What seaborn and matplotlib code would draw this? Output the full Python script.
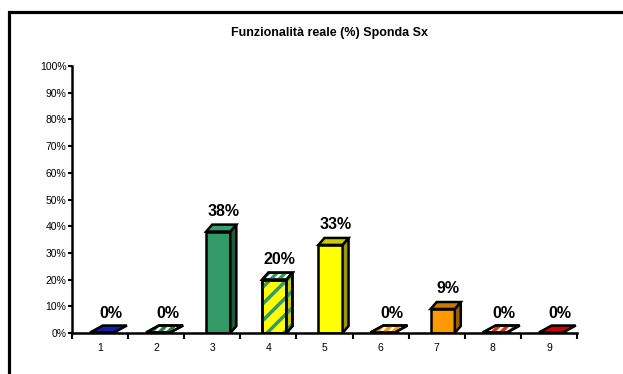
import matplotlib
matplotlib.use("Agg")
import matplotlib.pyplot as plt
from matplotlib.patches import Polygon, Rectangle
import numpy as np
import pandas as pd
import seaborn as sns

# Data
categories = ["1", "2", "3", "4", "5", "6", "7", "8", "9"]
values = [0, 0, 38, 20, 33, 0, 9, 0, 0]  # percent
labels = ["0%", "0%", "38%", "20%", "33%", "0%", "9%", "0%", "0%"]
yticks = [0, 10, 20, 30, 40, 50, 60, 70, 80, 90, 100]

# Face colours for the pseudo-3D columns (front, top, side)
front_cols = ["#000080", "#ffffff", "#339966", "#ffff00", "#ffff00",
              "#ffffff", "#ff9900", "#ffffff", "#cc0000"]
top_cols = ["#1a1aa8", "#ffffff", "#3a9e6c", "#ffffff", "#cccc00",
            "#ffffff", "#cc7a00", "#ffffff", "#cc0000"]
side_cols = ["#000060", "#ffffff", "#1e5c3d", "#cccc00", "#999900",
             "#ffffff", "#996000", "#ffffff", "#990000"]
top_hatch = [None, "#2b7a3a", None, "#339966", None, "#ff9900", None, "#dd3300", None]
front_hatch = [None, None, None, "#339966", None, None, None, None, None]

sns.set_theme(style="white")
plt.rcParams["font.family"] = ["Liberation Sans", "DejaVu Sans"]
plt.rcParams["hatch.linewidth"] = 2.5
plt.rcParams["text.color"] = "black"
plt.rcParams["xtick.color"] = "black"
plt.rcParams["ytick.color"] = "black"
plt.rcParams["xtick.labelcolor"] = "black"
plt.rcParams["ytick.labelcolor"] = "black"

fig = plt.figure(figsize=(6.23, 3.74), dpi=100)
ax = fig.add_axes([72 / 623, 1 - 333 / 374, 505 / 623, 267 / 374])

df = pd.DataFrame({"cat": categories, "val": values})
sns.barplot(data=df, x="cat", y="val", hue="cat", palette=front_cols,
            legend=False, width=0.43, ax=ax, edgecolor="black",
            linewidth=1.8, saturation=1)

ax.set_xlim(-0.5, 8.5)
ax.set_ylim(0, 100)

# depth of the pseudo-3D extrusion, in data units
DX = 0.107
DY = 2.6
SHIFT = 0.107

for i, p in enumerate(ax.patches[:len(categories)]):
    p.set_x(p.get_x() + SHIFT)
    x0 = p.get_x()
    w = p.get_width()
    h = p.get_height()
    x1 = x0 + w
    if front_hatch[i]:
        ax.add_patch(Rectangle((x0, 0), w, h, facecolor="none",
                               edgecolor=front_hatch[i], hatch="//",
                               linewidth=0, zorder=p.get_zorder() + 0.1))
        ax.add_patch(Rectangle((x0, 0), w, h, facecolor="none",
                               edgecolor="black", linewidth=1.8,
                               zorder=p.get_zorder() + 0.2))
    z = p.get_zorder() + 0.3
    side = [(x1, 0), (x1 + DX, DY), (x1 + DX, h + DY), (x1, h)]
    top = [(x0, h), (x1, h), (x1 + DX, h + DY), (x0 + DX, h + DY)]
    if h > 0:
        ax.add_patch(Polygon(side, closed=True, facecolor=side_cols[i],
                             edgecolor="black", linewidth=1.8, zorder=z,
                             clip_on=False))
        if front_hatch[i]:
            ax.add_patch(Polygon(side, closed=True, facecolor="none",
                                 edgecolor=front_hatch[i], hatch="//",
                                 linewidth=0, zorder=z + 0.05, clip_on=False))
            ax.add_patch(Polygon(side, closed=True, facecolor="none",
                                 edgecolor="black", linewidth=1.8,
                                 zorder=z + 0.06, clip_on=False))
    # top face; zero-height columns get a wider flat slab
    if h == 0:
        top = [(x0 - 0.07, 0.2), (x1 - 0.07, 0.2),
               (x1 + DX + 0.05, DY + 0.2), (x0 + DX + 0.05, DY + 0.2)]
    ax.add_patch(Polygon(top, closed=True, facecolor=top_cols[i],
                         edgecolor="black", linewidth=1.8, zorder=z + 0.1,
                         clip_on=False))
    if top_hatch[i]:
        ax.add_patch(Polygon(top, closed=True, facecolor="none",
                             edgecolor=top_hatch[i], hatch="////",
                             linewidth=0, zorder=z + 0.15, clip_on=False))
        ax.add_patch(Polygon(top, closed=True, facecolor="none",
                             edgecolor="black", linewidth=1.8,
                             zorder=z + 0.2, clip_on=False))
    ax.annotate(labels[i], xy=(x0 + (w + DX) / 2 + 0.04, h + DY),
                xytext=(0, 4), textcoords="offset points",
                ha="center", va="bottom", fontsize=11.5, fontweight="bold",
                color="black", annotation_clip=False)

# axes styling
for s in ["top", "right"]:
    ax.spines[s].set_visible(False)
for s in ["left", "bottom"]:
    ax.spines[s].set_color("black")
    ax.spines[s].set_linewidth(1.8)

ax.set_yticks(yticks)
ax.set_yticklabels([f"{v}%" for v in yticks], fontsize=7.5, color="black")
ax.tick_params(axis="y", direction="out", length=3, width=1.5,
               color="black", left=True, pad=1)
ax.set_xticks(np.arange(len(categories)))
ax.set_xticklabels(categories, fontsize=7.5, color="black")
ax.set_xticks(np.arange(len(categories) + 1) - 0.5, minor=True)
ax.tick_params(axis="x", which="major", length=0, pad=7)
ax.tick_params(axis="x", which="minor", direction="out", length=4,
               width=1.5, color="black", bottom=True)
ax.set_xlabel("")
ax.set_ylabel("")
ax.grid(False)

fig.text(330 / 623, 1 - 33 / 374, "Funzionalità reale (%) Sponda Sx",
         ha="center", va="center", fontsize=9, fontweight="bold",
         color="black")

# chart-area frame (runs off the right and bottom edges)
fig.patches.append(Rectangle((8.5 / 623, -0.2), 1.2, 1.2 - 11.5 / 374,
                             transform=fig.transFigure, fill=False,
                             edgecolor="black", linewidth=2.3))

fig.savefig("out.png", dpi=100)
